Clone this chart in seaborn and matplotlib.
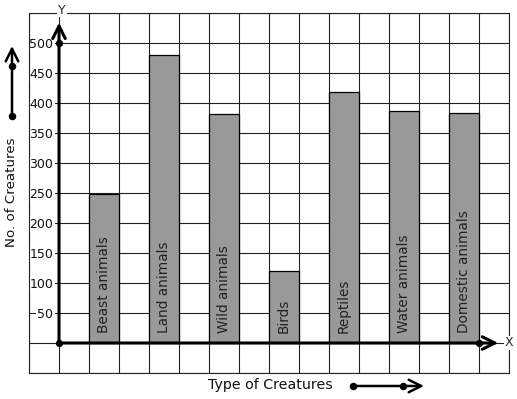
import numpy as np
import pandas as pd
import matplotlib
matplotlib.use("Agg")
import matplotlib.pyplot as plt
import seaborn as sns

creatures = ["Beast animals", "Land animals", "Wild animals", "Birds",
             "Reptiles", "Water animals", "Domestic animals"]
counts = [248, 480, 381, 120, 419, 386, 383]
ytick_values = list(range(-50, 551, 50))
ytick_labels = [str(v) if 50 <= v <= 500 else "" for v in ytick_values]

sns.set_style("white")
plt.rcParams["font.family"] = ["DejaVu Sans"]

W, H = 517, 399
fig = plt.figure(figsize=(W / 100, H / 100), dpi=100)
ax = fig.add_axes([29 / W, (H - 373) / H, 480 / W, 360 / H])

df = pd.DataFrame({"Creature": creatures, "Count": counts})
sns.barplot(data=df, x="Creature", y="Count", color="#999999", saturation=1,
            edgecolor="black", linewidth=0.9, width=0.5, ax=ax, zorder=2)

ax.set_xlim(-1.25, 6.75)
ax.set_ylim(-50, 550)
ax.set_xlabel("")
ax.set_ylabel("")

# grid of 30px cells
ax.set_xticks(np.arange(-1.25, 6.76, 0.5))
ax.set_xticklabels([])
ax.set_yticks(ytick_values)
ax.set_yticklabels(ytick_labels)
ax.tick_params(axis="both", length=0)
ax.tick_params(axis="y", pad=-17.5, labelsize=9, labelcolor="#111111")
ax.grid(True, color="#222222", linewidth=0.8)
ax.set_axisbelow(True)
for s in ax.spines.values():
    s.set_visible(True)
    s.set_color("#222222")
    s.set_linewidth(0.8)
    s.set_zorder(0.6)
for lab in ax.get_yticklabels():
    lab.set_bbox(dict(facecolor="white", edgecolor="none", pad=1.2))
    lab.set_zorder(3)

# bar labels
for i, name in enumerate(creatures):
    ax.text(i, 17, name, rotation=90, ha="center", va="bottom",
            fontsize=9.8, color="#222222", zorder=4)

arrow = dict(arrowstyle="->,head_length=0.9,head_width=0.45",
             color="black", mutation_scale=10, shrinkA=0, shrinkB=0)

# axes with arrows
x0 = -0.75
ax.annotate("", xy=(x0, 534), xytext=(x0, 0),
            arrowprops=dict(arrow, lw=2.2), zorder=5)
ax.annotate("", xy=(6.57, 0), xytext=(x0, 0),
            arrowprops=dict(arrow, lw=2.2), zorder=5)
ax.plot([x0, x0, 6.25], [0, 500, 0], "o", color="black", ms=4.2, zorder=6,
        clip_on=False)

def fp(x, y):
    return (x / W, 1 - y / H)

fig.text(*fp(62, 10), "Y", ha="center", va="center", fontsize=9,
         bbox=dict(facecolor="white", edgecolor="none", pad=0.5))
fig.text(*fp(509, 343), "X", ha="center", va="center", fontsize=9,
         bbox=dict(facecolor="white", edgecolor="none", pad=0.5))

# y label and its arrow
fig.text(*fp(12, 192), "No. of Creatures", rotation=90, ha="center",
         va="center", fontsize=9.6, color="#111111")
ax.annotate("", xy=fp(12, 46), xytext=fp(12, 116), xycoords="figure fraction",
            textcoords="figure fraction",
            arrowprops=dict(arrow, lw=1.8), annotation_clip=False)
fig.add_artist(plt.Line2D([fp(12, 116)[0], fp(12, 66)[0]],
                          [fp(12, 116)[1], fp(12, 66)[1]], marker="o",
                          ls="none", color="black", ms=4.4,
                          transform=fig.transFigure, zorder=10))

# x label and its arrow
fig.text(*fp(270, 385), "Type of Creatures", ha="center", va="center",
         fontsize=10.2, color="#111111")
ax.annotate("", xy=fp(424, 386), xytext=fp(353, 386), xycoords="figure fraction",
            textcoords="figure fraction",
            arrowprops=dict(arrow, lw=1.8), annotation_clip=False)
fig.add_artist(plt.Line2D([fp(353, 386)[0], fp(403, 386)[0]],
                          [fp(353, 386)[1], fp(403, 386)[1]], marker="o",
                          ls="none", color="black", ms=4.4,
                          transform=fig.transFigure, zorder=10))

fig.savefig("out.png", dpi=100, facecolor="white")
